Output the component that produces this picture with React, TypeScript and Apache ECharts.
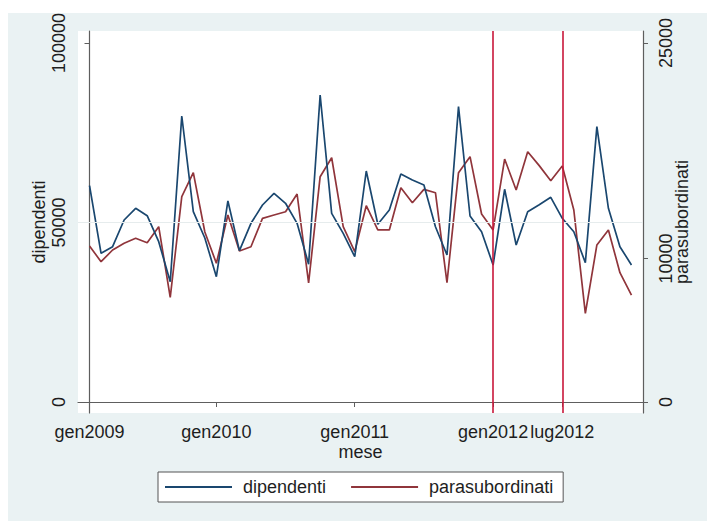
import React, { useEffect, useRef } from "react";
import * as echarts from "echarts";

const dipendenti = [
  60250, 41420, 43260, 50700, 53960, 51900, 44650, 33510, 79670, 53010,
  45680, 34900, 55990, 42150, 49770, 54870, 58130, 55350, 49770, 38400,
  85520, 52560, 46990, 40470, 64345, 49500, 53480, 63510, 61840, 60450,
  48830, 40950, 82260, 51810, 47440, 38160, 59250, 43730, 53010, 54960,
  57010, 51170, 47440, 38800, 76690, 53950, 43260, 38160,
];
const parasubordinati = [
  10864, 9770, 10585, 11050, 11400, 11090, 12210, 7290, 14300, 15970,
  11840, 9660, 13020, 10515, 10815, 12790, 13020, 13250, 14485, 8290,
  15690, 17010, 12210, 10470, 13670, 11980, 11980, 14925, 13880, 14810,
  14575, 8310, 15970, 17085, 13090, 11980, 16920, 14765, 17430, 16460,
  15410, 16435, 13370, 6175, 10935, 11980, 9005, 7450,
];
const xTickIndex = [0, 11, 23, 35, 41];
const xTickLabels = ["gen2009", "gen2010", "gen2011", "gen2012", "lug2012"];
const leftTicks = [0, 50000, 100000];
const rightTicks = [0, 10000, 25000];
const refLines = [35, 41];

const FONT = "Liberation Sans, Arial, sans-serif";
const AXIS = "#5e5e5e";
const TXT = "#1e1e1e";

export default function App() {
  const ref = useRef<HTMLDivElement>(null);
  useEffect(() => {
    const chart = echarts.init(ref.current!, null, { renderer: "svg" });
    chart.setOption({
      animation: false,
      textStyle: { fontFamily: FONT },
      graphic: [
        {
          type: "rect",
          shape: { x: 8, y: 13, width: 699, height: 508 },
          style: { fill: "#eaf2f3" },
          z: -10,
          silent: true,
        },
      ],
      grid: {
        left: 78,
        right: 64,
        top: 31,
        bottom: 108,
        show: true,
        backgroundColor: "#ffffff",
        borderWidth: 0,
      },
      legend: {
        left: 158,
        top: 472,
        padding: [6, 10, 6, 7],
        itemWidth: 67,
        itemHeight: 2,
        itemGap: 25,
        icon: "rect",
        backgroundColor: "#ffffff",
        borderColor: "#555555",
        borderWidth: 1,
        textStyle: { fontSize: 18, color: TXT, fontFamily: FONT, padding: [0, 0, 0, 6] },
        data: ["dipendenti", "parasubordinati"],
      },
      xAxis: {
        type: "value",
        min: -1,
        max: 48,
        name: "mese",
        nameLocation: "middle",
        nameGap: 30,
        nameMoveOverlap: false,
        nameTextStyle: { fontSize: 18, color: TXT },
        axisLine: { show: true, lineStyle: { color: AXIS, width: 1.2 } },
        axisTick: { show: true, length: 5, customValues: xTickIndex, lineStyle: { color: AXIS } },
        axisLabel: {
          customValues: xTickIndex,
          fontSize: 18,
          color: TXT,
          margin: 10,
          formatter: (v: number) => xTickLabels[xTickIndex.indexOf(v)] ?? "",
        },
        splitLine: { show: false },
      },
      yAxis: [
        {
          type: "value",
          position: "left",
          min: -3064,
          max: 103343,
          name: "dipendenti",
          nameLocation: "middle",
          nameRotate: 90,
          nameGap: 30,
          nameMoveOverlap: false,
          nameTextStyle: { fontSize: 18, color: TXT },
          axisLine: { show: true, lineStyle: { color: AXIS, width: 1.2 } },
          axisTick: { show: true, length: 5, customValues: leftTicks, lineStyle: { color: AXIS } },
          axisLabel: {
            customValues: leftTicks,
            rotate: 90,
            fontSize: 18,
            color: TXT,
            margin: 10,
            formatter: (v: number) => String(v),
          },
          splitLine: { show: false },
        },
        {
          type: "value",
          position: "right",
          min: -766,
          max: 25836,
          name: "parasubordinati",
          nameLocation: "middle",
          nameRotate: 90,
          nameGap: 30,
          nameMoveOverlap: false,
          nameTextStyle: { fontSize: 18, color: TXT },
          axisLine: { show: true, lineStyle: { color: AXIS, width: 1.2 } },
          axisTick: { show: true, length: 5, customValues: rightTicks, lineStyle: { color: AXIS } },
          axisLabel: {
            customValues: rightTicks,
            rotate: 90,
            fontSize: 18,
            color: TXT,
            margin: 14,
            formatter: (v: number) => String(v),
          },
          splitLine: { show: false },
        },
      ],
      series: [
        {
          name: "grid",
          type: "line",
          data: [],
          yAxisIndex: 0,
          z: 1,
          markLine: {
            silent: true,
            symbol: "none",
            label: { show: false },
            lineStyle: { color: "#e6eced", width: 1, type: "solid" },
            data: [{ yAxis: 50000 }],
          },
        },
        {
          name: "dipendenti",
          type: "line",
          yAxisIndex: 0,
          symbol: "none",
          color: "#1a476f",
          lineStyle: { width: 1.7, color: "#1a476f" },
          data: dipendenti.map((v, i) => [i, v]),
          z: 3,
        },
        {
          name: "parasubordinati",
          type: "line",
          yAxisIndex: 1,
          symbol: "none",
          color: "#90353b",
          lineStyle: { width: 1.7, color: "#90353b" },
          data: parasubordinati.map((v, i) => [i, v]),
          z: 2,
          markLine: {
            silent: true,
            symbol: "none",
            label: { show: false },
            lineStyle: { color: "#c8173a", width: 1.6, type: "solid" },
            data: refLines.map((x) => ({ xAxis: x })),
          },
        },
      ],
    });
    return () => chart.dispose();
  }, []);
  return (
    <div
      ref={ref}
      style={{ position: "absolute", left: 0, top: 0, width: 707, height: 521, background: "#ffffff" }}
    />
  );
}
